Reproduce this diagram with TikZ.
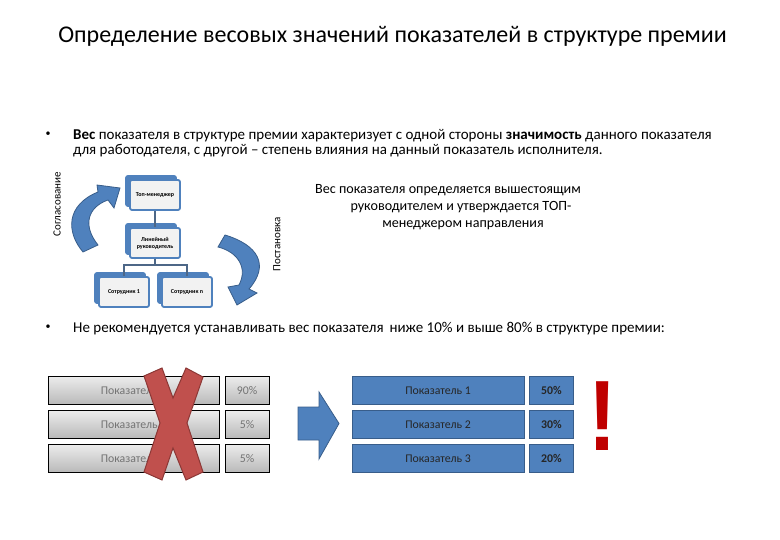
\documentclass[tikz,border=0pt]{standalone}
\usepackage{fontspec}
\setmainfont{Carlito}
\newfontfamily\markfont{Liberation Sans}
\usetikzlibrary{shadows}
\definecolor{blueFill}{HTML}{4F81BD}
\definecolor{blueLine}{HTML}{385D8A}
\definecolor{redCross}{HTML}{C0504D}
\definecolor{redLine}{HTML}{8C3836}
\tikzset{
  orgbox/.style={draw=blueFill,line width=1.8pt,rounded corners=2pt,fill=gray!10,minimum width=50pt,minimum height=30pt,align=center,inner sep=0pt,font=\fontsize{6}{7}\bfseries,copy shadow={shadow xshift=-4pt,shadow yshift=4pt,draw=blueFill,fill=blueFill}},
  orgline/.style={draw=blueLine!70!gray,line width=1.5pt},
  grayrow/.style={draw=black,line width=1pt,top color=gray!15,bottom color=gray!55,text=gray!90!black,font=\fontsize{11.8}{13}\selectfont,minimum height=28pt,inner sep=0pt},
  bluerow/.style={draw=blueLine,line width=1pt,fill=blueFill,text=black!85,font=\fontsize{11.8}{13}\selectfont,minimum height=28pt,inner sep=0pt},
  bodytext/.style={font=\fontsize{15}{15}\selectfont,align=left,anchor=west,inner sep=0pt},
  sidetext/.style={font=\fontsize{11}{12}\selectfont,rotate=90,inner sep=0pt},
  bigarrow/.style={draw=blueLine,line width=0.8pt,fill=blueFill},
  node distance=34pt
}
\begin{document}
\begin{tikzpicture}[x=1pt,y=-1pt]
\useasboundingbox (0,0) rectangle (780,540);
\node[font=\fontsize{24}{26}\selectfont,inner sep=0pt](title) at (392.5,36){Определение весовых значений показателей в структуре премии};
% bullets and text
\node[inner sep=0pt](B1) at (48,134){•};
\node[bodytext](T1) at (73,143){\textbf{Вес} показателя в структуре премии характеризует с одной стороны \textbf{значимость} данного показателя\\для работодателя, с другой – степень влияния на данный показатель исполнителя.};
\node[inner sep=0pt](B2) at (48,327){•};
\node[bodytext](T2) at (73,329){Не рекомендуется устанавливать вес показателя\, ниже 10\% и выше 80\% в структуре премии:};
\node[font=\fontsize{14.1}{17}\selectfont,align=center,inner sep=0pt](T3) at (448,207){Вес показателя определяется вышестоящим\\\hspace{26pt}руководителем и утверждается ТОП-\\\hspace{30pt}менеджером направления};
% org chart
\node[orgbox](TM) at (155,195){Топ-менеджер};
\node[orgbox,below of = TM,yshift=-14pt](LR){Линейный\\руководитель};
\node[orgbox](S1) at (124,292){Сотрудник 1};
\node[orgbox](Sn) at (187,292){Сотрудник n};
\draw[orgline] (TM) -- (LR);
\draw[orgline] (LR.south) -- ++(0,6) -| (S1.north);
\draw[orgline] (LR.south) -- ++(0,6) -| (Sn.north);
\node[sidetext](SG) at (57,204){Согласование};
\node[sidetext](PS) at (277,244.5){Постановка};
\draw[bigarrow] (98,245) -- (83,252) .. controls (66,232) and (66,205) .. (98,192) -- (97,185) -- (120,188) -- (114,208) -- (108,200) .. controls (88,207) and (82,225) .. (98,245) -- cycle;
\draw[bigarrow] (225,235) .. controls (258,245) and (270,265) .. (249,289) -- (257,293) -- (237,305) -- (228,287) -- (239,285) .. controls (248,268) and (238,252) .. (218,247) -- cycle;
% left table
\node[grayrow,minimum width=171pt](G1) at (133.5,390.5){Показатель 1};
\node[grayrow,minimum width=171pt,below of = G1](G2){Показатель 2};
\node[grayrow,minimum width=171pt,below of = G2](G3){Показатель 3};
\node[grayrow,minimum width=44pt,right of = G1,node distance=113.5pt](GP1){90\%};
\node[grayrow,minimum width=44pt,right of = G2,node distance=113.5pt](GP2){5\%};
\node[grayrow,minimum width=44pt,right of = G3,node distance=113.5pt](GP3){5\%};
% right table
\node[bluerow,minimum width=172pt](R1) at (438,390.5){Показатель 1};
\node[bluerow,minimum width=172pt,below of = R1](R2){Показатель 2};
\node[bluerow,minimum width=172pt,below of = R2](R3){Показатель 3};
\node[bluerow,minimum width=44pt,right of = R1,node distance=113.5pt,font=\fontsize{11.8}{13}\bfseries](RP1){50\%};
\node[bluerow,minimum width=44pt,right of = R2,node distance=113.5pt,font=\fontsize{11.8}{13}\bfseries](RP2){30\%};
\node[bluerow,minimum width=44pt,right of = R3,node distance=113.5pt,font=\fontsize{11.8}{13}\bfseries](RP3){20\%};
% cross, arrow, mark
\draw[fill=redCross,draw=redLine,line width=1pt] (144,376) -- (162,368) -- (173,398) -- (186,368) -- (203,377) -- (187,423) -- (203,472) -- (186,480) -- (173,448) -- (162,480) -- (144,472) -- (160,423) -- cycle;
\draw[bigarrow] (298,407) -- (319,407) -- (319,392) -- (339,423.5) -- (319,459) -- (319,440) -- (298,440) -- cycle;
\node[text=red!75!black,font=\markfont\fontsize{100}{110}\bfseries\selectfont,inner sep=0pt,xscale=.85,anchor=base](EX) at (603,450){!};
\end{tikzpicture}
\end{document}
